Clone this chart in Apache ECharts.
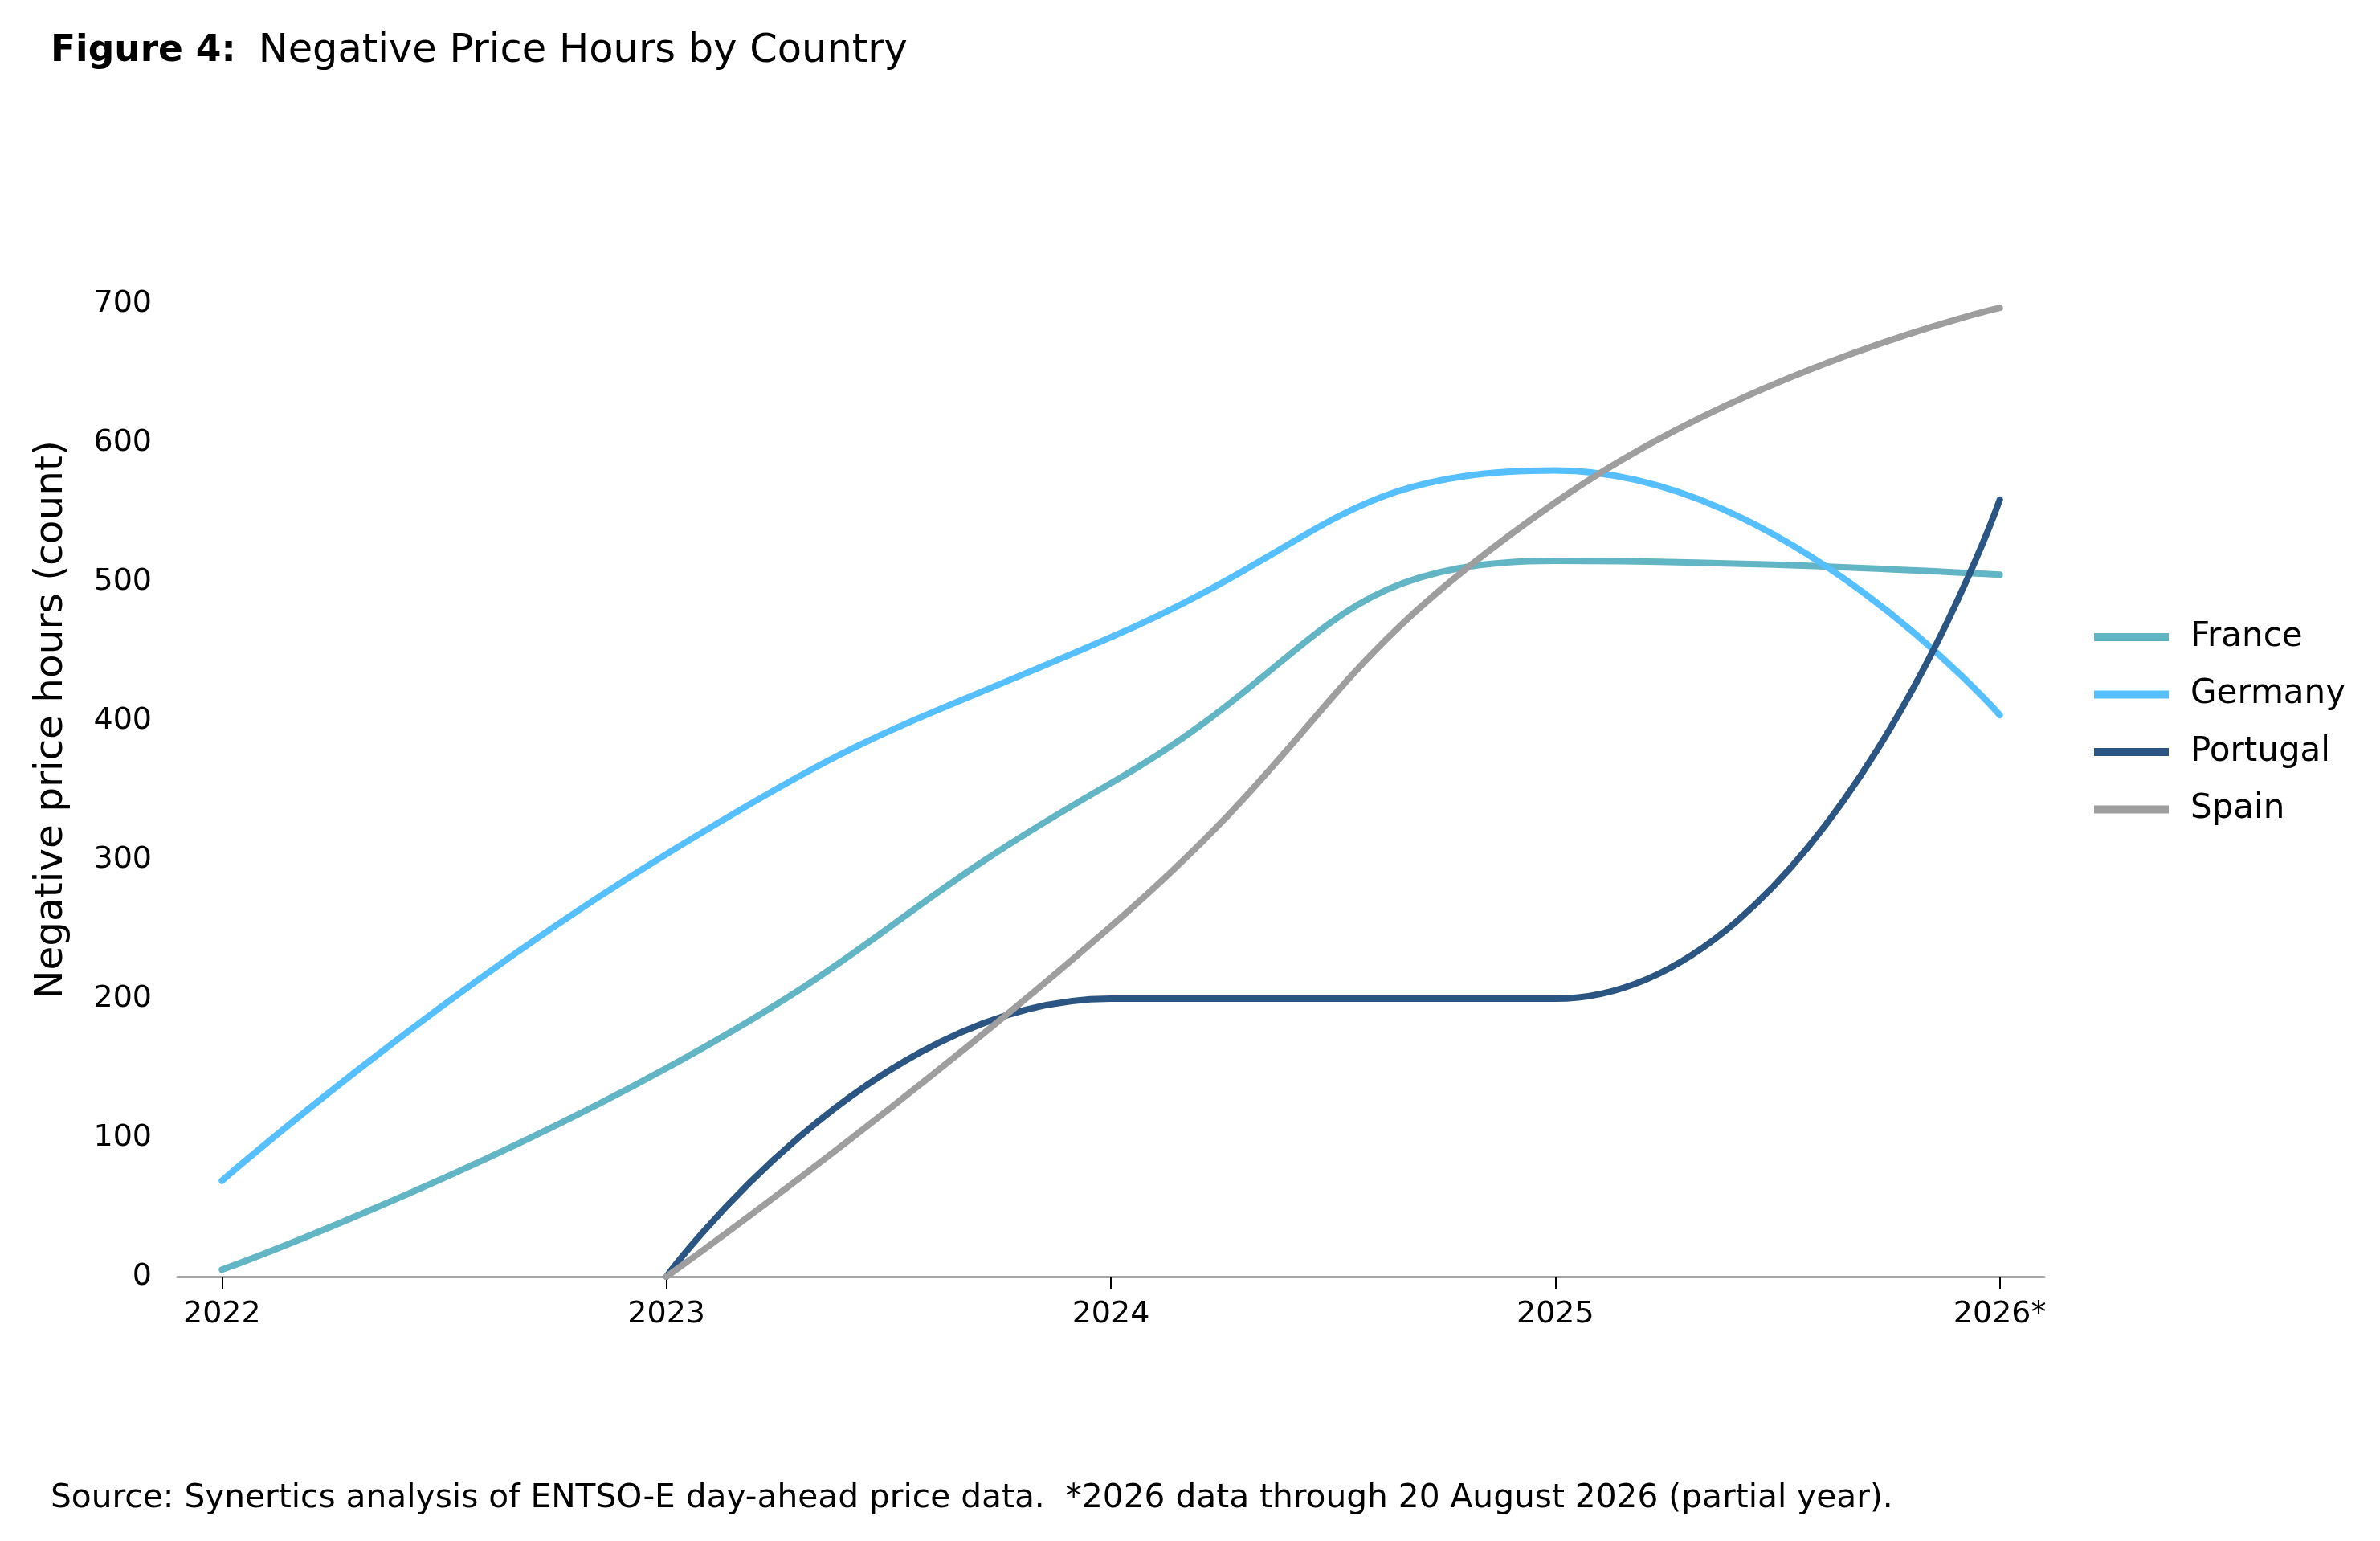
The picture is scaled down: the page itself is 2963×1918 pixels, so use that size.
<!DOCTYPE html>
<html>
<head>
<meta charset="utf-8">
<script src="https://cdn.jsdelivr.net/npm/echarts@6/dist/echarts.min.js"></script>
<style>
html,body{margin:0;padding:0;background:#fff;}
#chart{width:2963px;height:1918px;}
</style>
</head>
<body>
<div id="chart"></div>
<script>
var years = ['2022', '2023', '2024', '2025', '2026*'];
var france = [5, 150, 355, 515, 505];
var germany = [69, 304, 460, 580, 404];
var portugal = [null, 0, 200, 200, 559];
var spain = [null, 0, 252, 557, 697];
var yTicks = [0, 100, 200, 300, 400, 500, 600, 700];

var FONT = 'DejaVu Sans';
function pts(arr) {
  var out = [];
  for (var i = 0; i < arr.length; i++) if (arr[i] !== null) out.push([i, arr[i]]);
  return out;
}
function mk(name, arr, color) {
  return {
    name: name, type: 'line', smooth: 0.5, symbol: 'none',
    data: pts(arr),
    lineStyle: { width: 8, color: color, cap: 'round' },
    itemStyle: { color: color }
  };
}
var chart = echarts.init(document.getElementById('chart'));
chart.setOption({
  backgroundColor: '#fff',
  animation: false,
  title: [{
    left: 58, top: 34,
    text: '{b|Figure 4:}{n|Negative Price Hours by Country}',
    textStyle: {
      rich: {
        b: { fontFamily: FONT, fontSize: 45.5, fontWeight: 'bold', color: '#000' },
        n: { fontFamily: FONT, fontSize: 49.5, fontWeight: 'normal', color: '#000', padding: [0, 0, 0, 28] }
      }
    }
  }, {
    left: 58, top: 1840,
    text: 'Source: Synertics analysis of ENTSO-E day-ahead price data.  *2026 data through 20 August 2026 (partial year).',
    textStyle: { fontFamily: FONT, fontSize: 40.7, fontWeight: 'normal', color: '#000' }
  }],
  legend: {
    orient: 'vertical', left: 2602, top: 766,
    icon: 'rect', itemWidth: 93, itemHeight: 10, itemGap: 27.5,
    textStyle: { fontFamily: FONT, fontSize: 42, color: '#000', lineHeight: 44, padding: [0, 0, 0, 22] },
    data: ['France', 'Germany', 'Portugal', 'Spain']
  },
  graphic: [{
    type: 'text', x: 64, y: 896, rotation: Math.PI / 2,
    style: {
      text: 'Negative price hours (count)', fontFamily: FONT, fontSize: 48.5, fill: '#000',
      align: 'center', verticalAlign: 'middle'
    }
  }],
  grid: { left: 221, right: 418, top: 378, bottom: 329, containLabel: false },
  xAxis: {
    type: 'value', min: -0.1, max: 4.1,
    splitLine: { show: false },
    axisLine: { show: true, lineStyle: { color: '#a6a6a6', width: 3 } },
    axisTick: { show: true, customValues: [0, 1, 2, 3, 4], length: 15, lineStyle: { color: '#000', width: 2 } },
    axisLabel: {
      customValues: [0, 1, 2, 3, 4], margin: 28,
      fontFamily: FONT, fontSize: 38, color: '#000',
      formatter: function (v) { return years[Math.round(v)]; }
    }
  },
  yAxis: {
    type: 'value', min: 0, max: 700, interval: 100,
    splitLine: { show: false },
    axisLine: { show: false }, axisTick: { show: false },
    axisLabel: {
      margin: 32, fontFamily: FONT, fontSize: 38, color: '#000',
      formatter: function (v) { return yTicks.indexOf(v) >= 0 ? String(v) : ''; }
    }
  },
  series: [
    mk('France', france, '#62b5c4'),
    mk('Germany', germany, '#55bfff'),
    mk('Portugal', portugal, '#2b5582'),
    mk('Spain', spain, '#9e9e9e')
  ]
});
</script>
</body>
</html>
